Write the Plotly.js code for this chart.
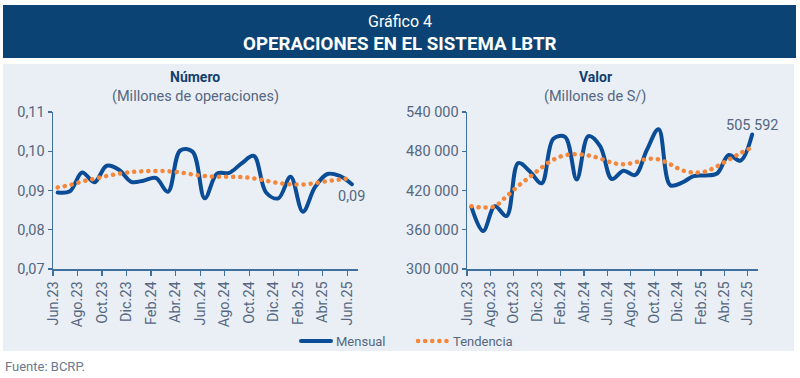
<!DOCTYPE html>
<html>
<head>
<meta charset="utf-8">
<script src="https://cdn.plot.ly/plotly-3.0.1.min.js"></script>
<style>
  html, body { margin: 0; padding: 0; background: #ffffff; }
  #chart { width: 800px; height: 378px; }
  path.js-line { stroke-linecap: round; stroke-linejoin: round; }
</style>
</head>
<body>
<div id="chart"></div>
<script>
// ---- Data ----
const months = ["Jun.23","Jul.23","Ago.23","Set.23","Oct.23","Nov.23","Dic.23","Ene.24","Feb.24","Mar.24","Abr.24","May.24",
                "Jun.24","Jul.24","Ago.24","Set.24","Oct.24","Nov.24","Dic.24","Ene.25","Feb.25","Mar.25","Abr.25","May.25","Jun.25"];
const tickLabels = ["Jun.23","Ago.23","Oct.23","Dic.23","Feb.24","Abr.24","Jun.24","Ago.24","Oct.24","Dic.24","Feb.25","Abr.25","Jun.25"];

const numeroMensual = [0.0895,0.0898,0.0946,0.0921,0.0963,0.0953,0.0922,0.0925,0.0932,0.0897,0.1002,0.0999,
                       0.0880,0.0943,0.0945,0.0969,0.0988,0.0895,0.0880,0.0935,0.0846,0.0909,0.0942,0.0937,0.0916];
const numeroTendencia = [0.0908,0.0914,0.0923,0.0930,0.0937,0.0943,0.0947,0.0949,0.0950,0.0949,0.0946,0.0941,
                         0.0937,0.0935,0.0935,0.0934,0.0931,0.0925,0.0919,0.0916,0.0915,0.0919,0.0924,0.0928,0.0932];

const valorMensual = [395000,358000,396000,381000,462000,449000,431000,499000,502000,437000,503000,488000,
                      437600,450300,443700,482000,513600,428000,432000,442000,443000,446000,474300,465600,505592];
const valorTendencia = [396000,394000,396000,411000,427000,441000,455000,467000,474000,475500,473500,469000,
                        462500,460000,463000,468000,467500,460000,451000,447500,449000,457000,467000,477000,486000];

// ---- Styles ----
const BLUE = "#0a4c96";
const ORANGE = "#f5873a";
const TICK = "#55677f";
const AXIS = "#3f6f9c";
const FONT = "Roboto, 'Open Sans', sans-serif";

const idx = months.map((_, i) => i);
const tickOffset = -0.38;
const tickvals = tickLabels.map((_, k) => 2 * k + tickOffset);

function fmtNum(v, dec) {
  return v.toFixed(dec).replace(".", ",");
}
function fmtThousands(v) {
  return Math.round(v).toString().replace(/\B(?=(\d{3})+(?!\d))/g, " ");
}

const lineBlue = { color: BLUE, width: 4, shape: "spline", smoothing: 1 };
const lineOrange = { color: ORANGE, width: 4.5, dash: "0.1px,7px", shape: "spline", smoothing: 1 };

const traces = [
  { x: idx, y: numeroMensual, type: "scatter", mode: "lines", name: "Mensual", line: lineBlue, xaxis: "x", yaxis: "y", showlegend: true, hoverinfo: "skip" },
  { x: idx, y: numeroTendencia, type: "scatter", mode: "lines", name: "Tendencia", line: lineOrange, xaxis: "x", yaxis: "y", showlegend: true, hoverinfo: "skip" },
  { x: idx, y: valorMensual, type: "scatter", mode: "lines", name: "Mensual", line: lineBlue, xaxis: "x2", yaxis: "y2", showlegend: false, hoverinfo: "skip" },
  { x: idx, y: valorTendencia, type: "scatter", mode: "lines", name: "Tendencia", line: lineOrange, xaxis: "x2", yaxis: "y2", showlegend: false, hoverinfo: "skip" }
];

const W = 800, H = 378;
const px = v => v / W;
const py = v => 1 - v / H;
const TS = 14.5;

const xaxisBase = {
  range: [tickOffset, 24.5],
  tickmode: "array",
  tickvals: tickvals,
  ticktext: tickLabels,
  tickangle: -90,
  ticks: "outside",
  ticklen: 5,
  tickwidth: 1.2,
  tickcolor: AXIS,
  showline: true,
  linecolor: AXIS,
  linewidth: 1.5,
  showgrid: false,
  zeroline: false,
  fixedrange: true,
  tickfont: { family: FONT, size: TS, color: TICK }
};

const yaxisBase = {
  ticks: "outside",
  ticklen: 4,
  tickwidth: 1.2,
  tickcolor: AXIS,
  showline: true,
  linecolor: AXIS,
  linewidth: 1.5,
  showgrid: false,
  zeroline: false,
  fixedrange: true,
  tickfont: { family: FONT, size: TS, color: TICK },
  domain: [py(269), py(112)]
};

const layout = {
  width: W, height: H,
  margin: { l: 0, r: 0, t: 0, b: 0 },
  paper_bgcolor: "#ffffff",
  plot_bgcolor: "rgba(0,0,0,0)",
  separators: ", ",
  font: { family: FONT, size: 13, color: TICK },
  xaxis: Object.assign({}, xaxisBase, { domain: [px(53), px(358)], anchor: "y" }),
  yaxis: Object.assign({}, yaxisBase, { range: [0.07, 0.11], tickvals: [0.07, 0.08, 0.09, 0.10, 0.11], tickformat: ".2f", anchor: "x" }),
  xaxis2: Object.assign({}, xaxisBase, { domain: [px(467), px(758)], anchor: "y2" }),
  yaxis2: Object.assign({}, yaxisBase, { range: [300000, 540000], tickvals: [300000, 360000, 420000, 480000, 540000], tickformat: ",d", anchor: "x2" }),
  showlegend: true,
  legend: {
    orientation: "h",
    x: px(296), xanchor: "left",
    y: py(341), yanchor: "middle",
    font: { family: FONT, size: 13, color: TICK },
    bgcolor: "rgba(0,0,0,0)",
    itemwidth: 30,
    entrywidth: 72,
    entrywidthmode: "pixels",
    tracegroupgap: 0
  },
  shapes: [
    { type: "rect", xref: "paper", yref: "paper", x0: px(3), x1: px(796), y0: py(58), y1: py(5), fillcolor: "#0b4474", line: { width: 0 }, layer: "below" },
    { type: "rect", xref: "paper", yref: "paper", x0: px(3), x1: px(794), y0: py(351), y1: py(64), fillcolor: "#eaeff6", line: { width: 0 }, layer: "below" }
  ],
  annotations: [
    { xref: "paper", yref: "paper", x: 0.5, y: py(21), text: "Gráfico 4", showarrow: false, xanchor: "center", yanchor: "middle",
      font: { family: FONT, size: 16, color: "#ffffff" } },
    { xref: "paper", yref: "paper", x: 0.5, y: py(44), text: "<b>OPERACIONES EN EL SISTEMA LBTR</b>", showarrow: false, xanchor: "center", yanchor: "middle",
      font: { family: FONT, size: 18.7, color: "#ffffff" } },
    { xref: "paper", yref: "paper", x: px(195), y: py(77), text: "<b>Número</b>", showarrow: false, xanchor: "center", yanchor: "middle",
      font: { family: FONT, size: 14, color: "#123f6e" } },
    { xref: "paper", yref: "paper", x: px(195), y: py(96), text: "(Millones de operaciones)", showarrow: false, xanchor: "center", yanchor: "middle",
      font: { family: FONT, size: TS, color: TICK } },
    { xref: "paper", yref: "paper", x: px(595), y: py(77), text: "<b>Valor</b>", showarrow: false, xanchor: "center", yanchor: "middle",
      font: { family: FONT, size: 14, color: "#123f6e" } },
    { xref: "paper", yref: "paper", x: px(595), y: py(96), text: "(Millones de S/)", showarrow: false, xanchor: "center", yanchor: "middle",
      font: { family: FONT, size: TS, color: TICK } },
    { xref: "x", yref: "y", x: idx[idx.length - 1], y: numeroMensual[numeroMensual.length - 1],
      text: fmtNum(numeroMensual[numeroMensual.length - 1], 2), showarrow: false, xanchor: "center", yanchor: "middle", yshift: -12,
      font: { family: FONT, size: TS, color: TICK } },
    { xref: "x2", yref: "y2", x: idx[idx.length - 1], y: valorMensual[valorMensual.length - 1],
      text: fmtThousands(valorMensual[valorMensual.length - 1]), showarrow: false, xanchor: "center", yanchor: "middle", yshift: 9,
      font: { family: FONT, size: TS, color: TICK } },
    { xref: "paper", yref: "paper", x: px(3), y: py(366), text: "Fuente: BCRP.", showarrow: false, xanchor: "left", yanchor: "middle",
      font: { family: FONT, size: 13, color: "#6b7a8f" } }
  ]
};

Plotly.newPlot("chart", traces, layout, { displayModeBar: false, staticPlot: true });
</script>
</body>
</html>
